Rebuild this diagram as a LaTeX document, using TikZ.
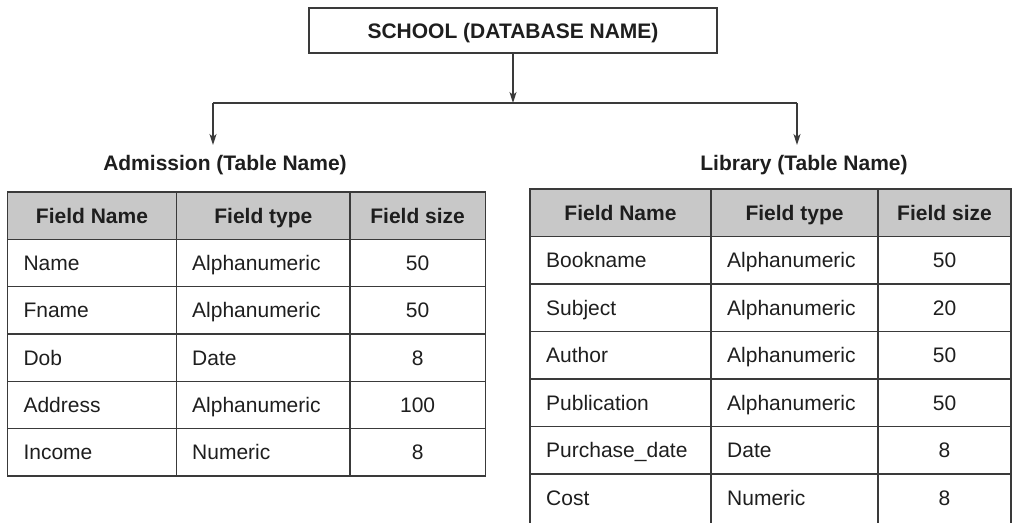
\documentclass[tikz,border=0pt]{standalone}
\usepackage{fontspec}
\setmainfont{Liberation Sans}
\usetikzlibrary{arrows.meta}
\definecolor{ln}{HTML}{3A3A3A}
\definecolor{tx}{HTML}{1E1E1E}
\definecolor{hd}{HTML}{C8C8C8}
\begin{document}
\begin{tikzpicture}[x=1pt,y=-1pt,
  font=\fontsize{21}{25}\selectfont,
  every node/.style={text=tx},
  grid/.style={draw=ln, line width=1.5pt},
  conn/.style={draw=ln, line width=1.5pt},
  arr/.style={conn, -{Stealth[length=11pt,width=7pt,inset=3pt]}},
  lefttxt/.style={anchor=west, inner sep=0pt, text height=15pt, text depth=0pt},
  midtxt/.style={anchor=center, inner sep=0pt, text height=15pt, text depth=0pt},
  headtxt/.style={midtxt, font=\fontsize{21}{25}\selectfont\bfseries}]
\useasboundingbox (0,0) rectangle (1014,522);

% database box
\node[draw=ln, line width=1.5pt, minimum width=408pt, minimum height=45pt, inner sep=0pt,
      text height=15pt, text depth=0pt,
      font=\fontsize{21}{25}\selectfont\bfseries] (school) at (513,30.5) {SCHOOL (DATABASE NAME)};
\coordinate (j) at (513,103);
\coordinate (jl) at (213,103);
\coordinate (jr) at (797,103);
\coordinate (al) at (213,145);
\coordinate (ar) at (797,145);
\draw[arr] (school.south) -- (j);
\draw[conn] (jl) -- (jr);
\draw[arr] (jl) -- (al);
\draw[arr] (jr) -- (ar);

% table names
\node[headtxt] (adm) at (225,163) {Admission (Table Name)};
\node[headtxt] (lib) at (804,163) {Library (Table Name)};

% ---------- Admission table ----------
\fill[hd] (7.3,192) rectangle (485.3,239.33);
\draw[grid] (7.3,192) rectangle (485.3,476);
\draw[grid] (176.7,192) -- (176.7,476);
\draw[grid] (350,192) -- (350,476);
\foreach \yy in {239.33,286.67,334,381.33,428.67}
  \draw[grid] (7.3,\yy) -- (485.3,\yy);
\node[headtxt] (LhA) at (92,215.67) {Field Name};
\node[headtxt] (LhB) at (263.35,215.67) {Field type};
\node[headtxt] (LhC) at (417.65,215.67) {Field size};
\foreach [count=\i] \a/\b/\c in {Name/Alphanumeric/50,Fname/Alphanumeric/50,Dob/Date/8,Address/Alphanumeric/100,Income/Numeric/8}{
  \node[lefttxt] (La\i) at (23.3,{192+47.33*\i+23.67}) {\a};
  \node[lefttxt] (Lb\i) at (192,{192+47.33*\i+23.67}) {\b};
  \node[midtxt] (Lc\i) at (417.65,{192+47.33*\i+23.67}) {\c};
}

% ---------- Library table ----------
\fill[hd] (530,189) rectangle (1011,236.5);
\draw[grid] (530,523) -- (530,189) -- (1011,189) -- (1011,523);
\draw[grid] (711,189) -- (711,523);
\draw[grid] (878,189) -- (878,523);
\foreach \yy in {236.5,284,331.5,379,426.5,474}
  \draw[grid] (530,\yy) -- (1011,\yy);
\node[headtxt] (RhA) at (620.5,212.75) {Field Name};
\node[headtxt] (RhB) at (794.5,212.75) {Field type};
\node[headtxt] (RhC) at (944.5,212.75) {Field size};
\foreach [count=\i] \a/\b/\c in {Bookname/Alphanumeric/50,Subject/Alphanumeric/20,Author/Alphanumeric/50,Publication/Alphanumeric/50,Purchase\_date/Date/8,Cost/Numeric/8}{
  \node[lefttxt] (Ra\i) at (546,{189+47.5*\i+23.75}) {\a};
  \node[lefttxt] (Rb\i) at (727,{189+47.5*\i+23.75}) {\b};
  \node[midtxt] (Rc\i) at (944.5,{189+47.5*\i+23.75}) {\c};
}
\end{tikzpicture}
\end{document}
